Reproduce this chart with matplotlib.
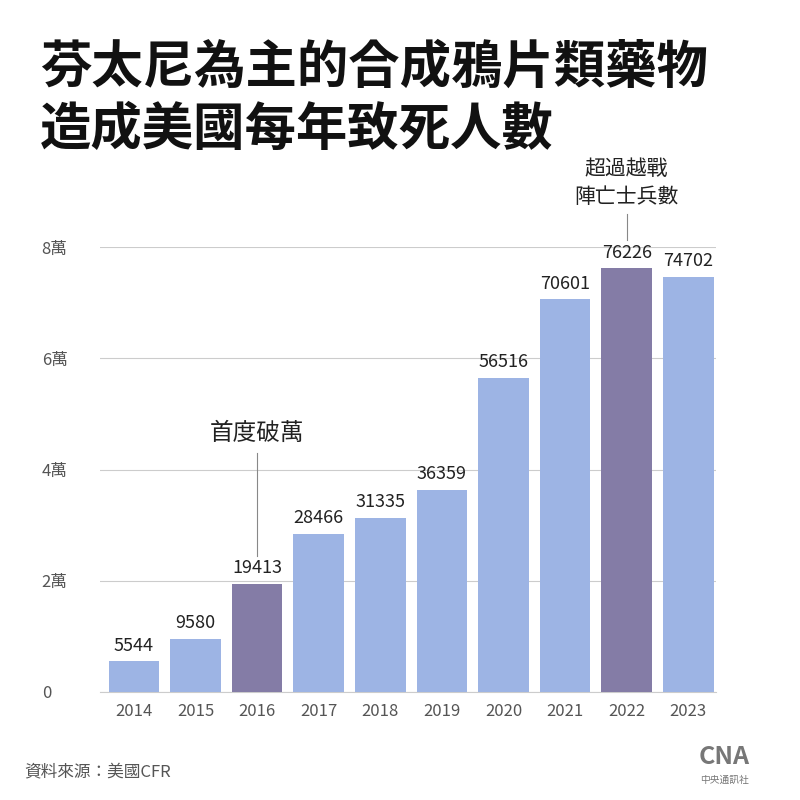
import matplotlib.pyplot as plt
from matplotlib import font_manager

names = {f.name for f in font_manager.fontManager.ttflist}
cjk = [n for n in ['Noto Sans CJK TC', 'Noto Sans CJK JP', 'Noto Sans CJK SC', 'Noto Sans CJK KR']
       if n in names]
cjk += sorted(n for n in names if 'CJK' in n and n not in cjk)
plt.rcParams['font.family'] = cjk + ['DejaVu Sans']

years = ['2014', '2015', '2016', '2017', '2018', '2019', '2020', '2021', '2022', '2023']
deaths = [5544, 9580, 19413, 28466, 31335, 36359, 56516, 70601, 76226, 74702]
highlight = ['2016', '2022']
yticks = [0, 20000, 40000, 60000, 80000]
ytick_labels = ['0', '2萬', '4萬', '6萬', '8萬']

light = '#9db4e4'
dark = '#847ca6'

fig = plt.figure(figsize=(8, 8), dpi=100)
ax = fig.add_axes([0.125, 0.135, 0.77, 0.556])

colors = [dark if y in highlight else light for y in years]
x = range(len(years))
ax.bar(x, deaths, width=0.82, color=colors, zorder=3)
for i, v in enumerate(deaths):
    ax.text(i, v + 1200, str(v), ha='center', va='bottom', fontsize=13, color='#222222')

ax.set_ylim(0, 80000)
ax.set_xlim(-0.55, len(years) - 0.55)
ax.set_yticks(yticks)
ax.set_yticklabels(ytick_labels, fontsize=12, color='#555555', ha='left')
ax.tick_params(axis='y', length=0, pad=42)
ax.set_xticks(list(x))
ax.set_xticklabels(years, fontsize=12, color='#555555')
ax.tick_params(axis='x', length=0, pad=8)
ax.grid(axis='y', color='#cccccc', linewidth=0.8, zorder=0)
for s in ['top', 'right', 'left']:
    ax.spines[s].set_visible(False)
ax.spines['bottom'].set_color('#cccccc')

# annotations
ax.plot([2, 2], [deaths[2] + 5000, 43000], color='#888888', linewidth=0.8)
ax.text(2, 44500, '首度破萬', ha='center', va='bottom', fontsize=17, color='#222222')
ax.plot([8, 8], [deaths[8] + 5000, 86000], color='#888888', linewidth=0.8, clip_on=False)
ax.text(8, 87000, '超過越戰\n陣亡士兵數', ha='center', va='bottom', fontsize=15,
        color='#222222', linespacing=1.35)

fig.text(0.05, 0.877, '芬太尼為主的合成鴉片類藥物\n造成美國每年致死人數', fontsize=37,
         fontweight='bold', color='#111111', va='center', linespacing=1.2)
fig.text(0.03, 0.03, '資料來源：美國CFR', fontsize=12, color='#555555')
fig.text(0.905, 0.045, 'CNA', fontsize=18, fontweight='bold', color='#777777', ha='center')
fig.text(0.905, 0.022, '中央通訊社', fontsize=7, color='#777777', ha='center')

fig.savefig('out.png', dpi=100)
